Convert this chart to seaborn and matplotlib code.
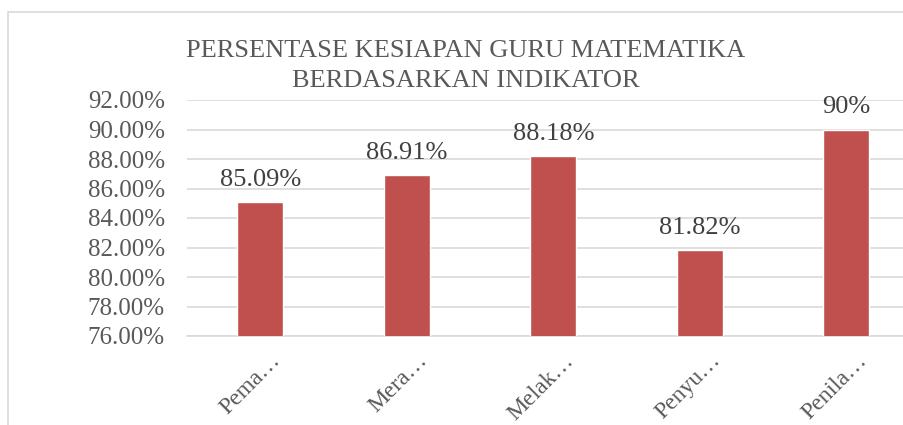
import matplotlib
matplotlib.use("Agg")
import matplotlib.pyplot as plt
import matplotlib.transforms as mtransforms
import pandas as pd
import seaborn as sns
from matplotlib.patches import Rectangle

# data
categories = ["Pema…", "Mera…", "Melak…", "Penyu…", "Penila…"]
values = [85.09, 86.91, 88.18, 81.82, 90.00]
value_labels = ["85.09%", "86.91%", "88.18%", "81.82%", "90%"]
y_ticks = [76, 78, 80, 82, 84, 86, 88, 90, 92]

title = "PERSENTASE KESIAPAN GURU MATEMATIKA\nBERDASARKAN INDIKATOR"
bar_color = "#C0504D"
text_color = "#595959"

sns.set_style("white")
plt.rcParams["font.family"] = ["Liberation Serif", "DejaVu Serif"]

df = pd.DataFrame({"indikator": categories, "persen": values})

fig = plt.figure(figsize=(9.04, 4.25), dpi=100)
# chart border like the spreadsheet chart area
fig.patches.append(Rectangle((8 / 904, -0.1), 1.2, 1 - 12 / 425 + 0.1, transform=fig.transFigure,
                             fill=False, edgecolor="#D9D9D9", linewidth=1.2))

W, H = 904, 425
left, right, top, bottom = 187, 919.5, 100, 336
ax = fig.add_axes([left / W, 1 - bottom / H, (right - left) / W, (bottom - top) / H])

sns.barplot(data=df, x="indikator", y="persen", color=bar_color, width=0.314,
            saturation=1, ax=ax, zorder=3)

ax.set_ylim(76, 92)
ax.set_yticks(y_ticks)
ax.set_yticklabels([f"{t:.2f}%" for t in y_ticks], fontsize=18, color=text_color)
ax.tick_params(axis="y", length=0, pad=16)
ax.tick_params(axis="x", length=0, pad=0)
ax.set_xticks(range(len(categories)))
ax.set_xticklabels(categories, rotation=45, ha="right", rotation_mode="anchor",
                   fontsize=17, color=text_color)
shift = mtransforms.ScaledTranslation(10 / 100, -14 / 100, fig.dpi_scale_trans)
for lab in ax.get_xticklabels():
    lab.set_transform(lab.get_transform() + shift)
ax.set_xlabel("")
ax.set_ylabel("")
ax.grid(axis="y", color="#D9D9D9", linewidth=1.2, zorder=0)
for s in ["top", "right", "left"]:
    ax.spines[s].set_visible(False)
ax.spines["bottom"].set_color("#D9D9D9")
ax.spines["bottom"].set_linewidth(1.2)

for i, (v, lab) in enumerate(zip(values, value_labels)):
    ax.annotate(lab, (i, v), xytext=(0, 8), textcoords="offset points",
                ha="center", va="bottom", fontsize=19, color="#404040", annotation_clip=False)

fig.text(466 / W, 1 - 66 / H, title, ha="center", va="center", fontsize=19,
         color=text_color, linespacing=1.5)

fig.savefig("out.png", dpi=100)
